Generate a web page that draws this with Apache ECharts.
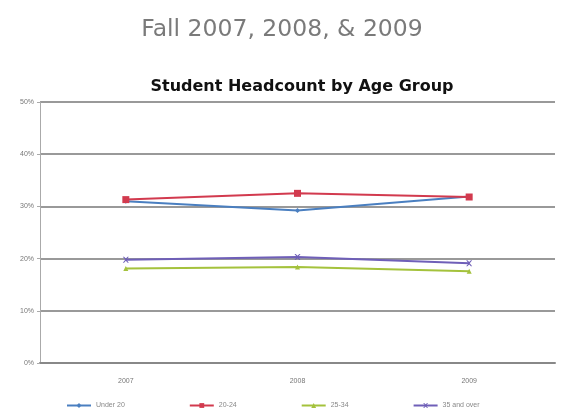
<!DOCTYPE html>
<html><head><meta charset="utf-8">
<script src="https://cdn.jsdelivr.net/npm/echarts@6/dist/echarts.min.js"></script>
<style>html,body{margin:0;padding:0;background:#fff}#c{width:561px;height:414px}</style>
</head><body><div id="c"></div>
<script>
var categories = ['2007', '2008', '2009'];
var seriesNames = ['Under 20', '20-24', '25-34', '35 and over'];
var under20 = [31.0, 29.2, 31.9];
var age20to24 = [31.3, 32.5, 31.8];
var age25to34 = [18.1, 18.4, 17.6];
var age35plus = [19.8, 20.3, 19.1];
var yTicks = [0, 10, 20, 30, 40, 50];

var colors = ['#4a7fc0', '#d23a4e', '#a4c23c', '#6f5fb8'];
var xPath = 'path://M0,0L2,0L5,3L8,0L10,0L6,5L10,10L8,10L5,7L2,10L0,10L4,5Z';
var symbols = ['diamond', 'rect', 'triangle', xPath];
var dataSets = [under20, age20to24, age25to34, age35plus];

var chart = echarts.init(document.getElementById('c'));
chart.setOption({
  animation: false,
  title: [
    {text: 'Fall 2007, 2008, & 2009', left: 277, top: 13, textAlign: 'center',
     textStyle: {fontFamily: 'DejaVu Sans', fontSize: 23.5, fontWeight: 'normal', color: '#7a7a7a'}},
    {text: 'Student Headcount by Age Group', left: 297, top: 74, textAlign: 'center',
     textStyle: {fontFamily: 'DejaVu Sans', fontSize: 16, fontWeight: 'bold', color: '#111'}}
  ],
  grid: {left: 40, right: 6, top: 102, bottom: 51},
  xAxis: {
    type: 'category', data: categories, boundaryGap: true,
    axisLine: {lineStyle: {color: '#888', width: 2}},
    axisTick: {show: false},
    axisLabel: {fontSize: 7, color: '#777', margin: 15}
  },
  yAxis: {
    type: 'value', min: 0, max: 50, interval: 10,
    axisLine: {show: true, lineStyle: {color: '#aaa', width: 1}},
    axisTick: {show: true, length: 3, lineStyle: {color: '#aaa'}},
    splitLine: {lineStyle: {color: '#777', width: 1.5}},
    axisLabel: {fontSize: 7, color: '#777', margin: 6,
      formatter: function (v) { return yTicks.indexOf(v) >= 0 ? v + '%' : ''; }}
  },
  legend: {
    bottom: 0, left: 61, itemGap: 64, itemWidth: 24, itemHeight: 6,
    textStyle: {fontSize: 7, color: '#888'},
    data: seriesNames
  },
  series: seriesNames.map(function (n, i) {
    return {
      name: n, type: 'line', data: dataSets[i],
      symbol: symbols[i], symbolSize: i === 1 ? 7 : (i === 3 ? 6 : 5),
      lineStyle: {color: colors[i], width: 2},
      itemStyle: {color: colors[i]}
    };
  })
});
</script></body></html>
